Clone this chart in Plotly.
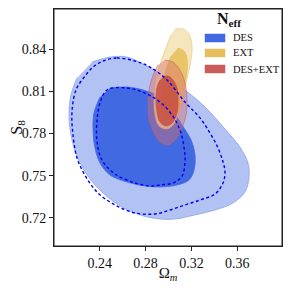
import plotly.graph_objects as go

# ---- data (Omega_m, S8) contour outlines ----
des_outer_om = [0.2332, 0.2489, 0.2638, 0.2795, 0.2969, 0.3144, 0.3319, 0.3493, 0.3624, 0.3694,
                0.3703, 0.3668, 0.3563, 0.3406, 0.3231, 0.3057, 0.2926, 0.2751, 0.2550, 0.2358,
                0.2227, 0.2157, 0.2131, 0.2148, 0.2201]
des_outer_s8 = [0.8309, 0.8344, 0.8344, 0.8287, 0.8209, 0.8110, 0.7989, 0.7832, 0.7704, 0.7590,
                0.7491, 0.7384, 0.7306, 0.7256, 0.7221, 0.7192, 0.7192, 0.7221, 0.7299, 0.7434,
                0.7590, 0.7754, 0.7932, 0.8074, 0.8195]

des_inner_om = [0.2489, 0.2638, 0.2777, 0.2926, 0.3031, 0.3118, 0.3197, 0.3231, 0.3223, 0.3179,
                0.3074, 0.2926, 0.2795, 0.2638, 0.2489, 0.2402, 0.2358, 0.2341, 0.2349, 0.2402]
des_inner_s8 = [0.8124, 0.8131, 0.8110, 0.8060, 0.7967, 0.7861, 0.7754, 0.7647, 0.7541, 0.7470,
                0.7434, 0.7420, 0.7427, 0.7455, 0.7505, 0.7590, 0.7697, 0.7825, 0.7946, 0.8060]

des_dash_outer_om = [0.2428, 0.2550, 0.2707, 0.2838, 0.2987, 0.3144, 0.3275, 0.3362, 0.3432, 0.3476,
                     0.3493, 0.3476, 0.3406, 0.3275, 0.3144, 0.3013, 0.2882, 0.2707, 0.2533, 0.2384,
                     0.2279, 0.2201, 0.2166, 0.2157, 0.2192, 0.2271, 0.2341]
des_dash_outer_s8 = [0.8316, 0.8337, 0.8316, 0.8273, 0.8181, 0.8024, 0.7911, 0.7804, 0.7697, 0.7598,
                     0.7526, 0.7448, 0.7370, 0.7327, 0.7292, 0.7256, 0.7228, 0.7235, 0.7292, 0.7377,
                     0.7491, 0.7626, 0.7790, 0.7953, 0.8110, 0.8209, 0.8273]

des_dash_inner_om = [0.2463, 0.2638, 0.2795, 0.2926, 0.3031, 0.3100, 0.3135, 0.3144, 0.3118, 0.3039,
                     0.2926, 0.2838, 0.2707, 0.2533, 0.2419, 0.2376, 0.2376, 0.2402]
des_dash_inner_s8 = [0.8110, 0.8124, 0.8088, 0.8024, 0.7932, 0.7825, 0.7704, 0.7598, 0.7498, 0.7448,
                     0.7434, 0.7427, 0.7448, 0.7512, 0.7612, 0.7740, 0.7896, 0.8017]

ext_outer_om = [0.3057, 0.3127, 0.3179, 0.3205, 0.3197, 0.3170, 0.3135, 0.3092, 0.3048, 0.2987,
                0.2917, 0.2882, 0.2873, 0.2891, 0.2934, 0.2987, 0.3022]
ext_outer_s8 = [0.8544, 0.8544, 0.8508, 0.8430, 0.8323, 0.8217, 0.8095, 0.7967, 0.7868, 0.7832,
                0.7854, 0.7932, 0.8053, 0.8181, 0.8309, 0.8430, 0.8501]

ext_inner_om = [0.3083, 0.3135, 0.3162, 0.3162, 0.3144, 0.3118, 0.3083, 0.3031, 0.2978, 0.2952,
                0.2952, 0.2978, 0.3022]
ext_inner_s8 = [0.8408, 0.8387, 0.8337, 0.8252, 0.8145, 0.8039, 0.7953, 0.7911, 0.7932, 0.8024,
                0.8145, 0.8252, 0.8351]

comb_outer_om = [0.2969, 0.3039, 0.3100, 0.3144, 0.3162, 0.3153, 0.3118, 0.3066, 0.2996, 0.2926,
                 0.2873, 0.2830, 0.2821, 0.2830, 0.2865, 0.2908]
comb_outer_s8 = [0.8323, 0.8309, 0.8252, 0.8159, 0.8039, 0.7932, 0.7839, 0.7761, 0.7719, 0.7740,
                 0.7804, 0.7896, 0.8003, 0.8110, 0.8216, 0.8287]

comb_inner_om = [0.2952, 0.2996, 0.3039, 0.3074, 0.3083, 0.3074, 0.3031, 0.2978, 0.2926, 0.2900,
                 0.2891, 0.2900, 0.2926]
comb_inner_s8 = [0.8202, 0.8209, 0.8181, 0.8124, 0.8039, 0.7946, 0.7875, 0.7854, 0.7882, 0.7953,
                 0.8060, 0.8131, 0.8181]

labels = ["DES", "EXT", "DES+EXT"]
legend_colors = ["#4169e1", "#e6be5c", "#cc5b5b"]
x_ticks = [0.24, 0.28, 0.32, 0.36]
y_ticks = [0.72, 0.75, 0.78, 0.81, 0.84]


def closed(a):
    return list(a) + [a[0]]


fig = go.Figure()


def region(xs, ys, fill, line):
    fig.add_trace(go.Scatter(
        x=list(xs), y=list(ys), mode="lines", fill="toself", fillcolor=fill,
        line=dict(color=line, width=0.8, shape="spline", smoothing=1.0),
        showlegend=False, hoverinfo="skip"))


region(des_outer_om, des_outer_s8, "rgb(178,194,243)", "rgb(140,165,235)")
region(des_inner_om, des_inner_s8, "rgb(65,105,225)", "rgb(65,105,225)")
region(ext_outer_om, ext_outer_s8, "rgba(245,226,178,0.85)", "rgba(232,196,110,0.7)")
region(ext_inner_om, ext_inner_s8, "rgba(230,190,90,0.85)", "rgba(230,190,90,0.9)")
region(comb_outer_om, comb_outer_s8, "rgba(214,110,110,0.45)", "rgba(205,92,92,0.7)")
region(comb_inner_om, comb_inner_s8, "rgba(196,72,60,0.8)", "rgba(196,72,60,0.8)")

for xs, ys in [(des_dash_outer_om, des_dash_outer_s8), (des_dash_inner_om, des_dash_inner_s8)]:
    fig.add_trace(go.Scatter(
        x=closed(xs), y=closed(ys), mode="lines",
        line=dict(color="#0000ff", width=1.4, dash="3px,2.5px", shape="spline", smoothing=1.0),
        showlegend=False, hoverinfo="skip"))

font_family = "Liberation Serif, Times New Roman, serif"

# manual legend (paper coordinates; plot area 228x237 px starting at page (54, 9))
def py(p):
    return (246 - p) / 237.0


def px(p):
    return (p - 54) / 228.0


legend_py = [38, 53, 69]
for lab, col, lp in zip(labels, legend_colors, legend_py):
    fig.add_shape(type="rect", xref="paper", yref="paper", x0=px(205), x1=px(225),
                  y0=py(lp + 4), y1=py(lp - 4), fillcolor=col, line=dict(color=col, width=0.5))
    fig.add_annotation(xref="paper", yref="paper", x=px(231), y=py(lp), text=lab, showarrow=False,
                       xanchor="left", yanchor="middle",
                       font=dict(family=font_family, size=10.5, color="#111"))
fig.add_annotation(xref="paper", yref="paper", x=px(229), y=py(19), text="<b>N<sub>eff</sub></b>",
                   showarrow=False, xanchor="center", yanchor="middle",
                   font=dict(family=font_family, size=16, color="#111"))

# plot frame
fig.add_shape(type="rect", xref="paper", yref="paper", x0=0, x1=1, y0=0, y1=1,
              line=dict(color="#222", width=1), layer="above")

axis_common = dict(showline=True, linecolor="#222", linewidth=1, mirror=True, automargin=False,
                   ticks="outside", ticklen=4, tickcolor="#222", showgrid=False, zeroline=False,
                   tickfont=dict(family=font_family, size=14, color="#111"))

# page body has an 8px default margin; a 275x275 figure at (8, 8) fits without overflow
fig.update_layout(
    width=275, height=275,
    margin=dict(l=46, r=1, t=1, b=37),
    paper_bgcolor="white", plot_bgcolor="white",
    font=dict(family=font_family, color="#111"),
    showlegend=False,
    xaxis=dict(range=[0.2, 0.3991], tickvals=x_ticks, ticktext=[f"{v:.2f}" for v in x_ticks],
               title=dict(text="Ω<sub><i>m</i></sub>", font=dict(family=font_family, size=15), standoff=7),
               **axis_common),
    yaxis=dict(range=[0.70, 0.8686], tickvals=y_ticks, ticktext=[f"{v:.2f}" for v in y_ticks],
               title=dict(text="S<sub>8</sub>", font=dict(family=font_family, size=16), standoff=2),
               **axis_common),
)

fig.write_html("out.html")
